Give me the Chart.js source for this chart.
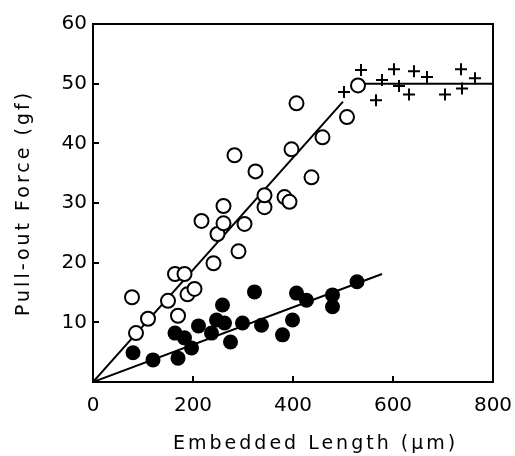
<!DOCTYPE html>
<html>
<head>
<meta charset="utf-8">
<script src="https://cdn.jsdelivr.net/npm/chart.js@4/dist/chart.umd.min.js"></script>
<style>
  html, body { margin: 0; padding: 0; background: #fff; }
</style>
</head>
<body>
<canvas id="chart" width="515" height="456"></canvas>
<script>
// Pull-out force vs embedded length

// open circles
const openX = [78, 86, 110, 150, 164, 170, 183, 189, 203, 217, 241, 249, 261, 261, 283, 291, 303, 325, 343, 343, 383, 393, 397, 407, 437, 459, 508, 530]
const openY = [14.2, 8.2, 10.6, 13.6, 18.1, 11.1, 18.1, 14.7, 15.6, 27.0, 19.9, 24.8, 29.5, 26.6, 38.0, 21.9, 26.5, 35.3, 29.3, 31.3, 31.0, 30.2, 39.0, 46.7, 34.3, 41.0, 44.4, 49.7]

// filled circles
const filledX = [80, 120, 164, 170, 183, 197, 211, 237, 247, 259, 263, 275, 299, 323, 337, 379, 399, 407, 427, 479, 479, 528]
const filledY = [4.9, 3.7, 8.2, 4.0, 7.4, 5.7, 9.4, 8.2, 10.4, 12.9, 9.9, 6.7, 9.9, 15.1, 9.5, 7.9, 10.4, 14.9, 13.7, 14.6, 12.6, 16.8]

// crosses
const plusX = [502, 536, 566, 578, 602, 612, 632, 642, 668, 704, 736, 738, 764]
const plusY = [48.6, 52.3, 47.2, 50.6, 52.4, 49.6, 48.2, 52.1, 51.1, 48.2, 52.4, 49.2, 50.9]

// fitted lines
const openFitX = [0, 500]
const openFitY = [0, 47]
const filledFitX = [0, 578]
const filledFitY = [0, 18.1]
const plateauX = [530, 800]
const plateauY = [50, 50]

// axes
const xTicks = [0, 200, 400, 600, 800]
const yTicks = [10, 20, 30, 40, 50, 60]
const xTitle = 'Embedded Length (\u03bcm)'
const yTitle = 'Pull-out Force (gf)'

const toPoints = (xs, ys) => xs.map((x, i) => ({ x: x, y: ys[i] }))

const TICK_LEN = 6
const FONT = 'DejaVu Sans'

// box around the plot, inward tick marks and the two axis titles
const frameTicks = {
  id: 'frameTicks',
  afterDraw(chart) {
    const { ctx, chartArea: a, scales } = chart
    ctx.save()
    ctx.strokeStyle = '#000'
    ctx.lineWidth = 2
    ctx.strokeRect(a.left, a.top, a.right - a.left, a.bottom - a.top)
    ctx.beginPath()
    scales.x.ticks.forEach(t => {
      if (t.value <= scales.x.min || t.value >= scales.x.max) return
      const px = Math.round(scales.x.getPixelForValue(t.value))
      ctx.moveTo(px, a.bottom)
      ctx.lineTo(px, a.bottom - TICK_LEN)
    })
    scales.y.ticks.forEach(t => {
      if (t.value <= scales.y.min || t.value >= scales.y.max) return
      const py = Math.round(scales.y.getPixelForValue(t.value))
      ctx.moveTo(a.left, py)
      ctx.lineTo(a.left + TICK_LEN, py)
    })
    ctx.stroke()

    // titles: the printed lettering is wide and loosely spaced
    ctx.fillStyle = '#000'
    ctx.font = '19px "' + FONT + '"'
    ctx.letterSpacing = '3px'
    ctx.textBaseline = 'middle'
    ctx.textAlign = 'left'
    ctx.fillText(xTitle, a.left + 80, 444)
    ctx.translate(24, (a.top + a.bottom) / 2)
    ctx.rotate(-Math.PI / 2)
    ctx.textAlign = 'center'
    ctx.fillText(yTitle, 0, 0)
    ctx.restore()
  }
}

const lineStyle = {
  type: 'line',
  borderColor: '#000',
  borderWidth: 2,
  pointRadius: 0,
  fill: false,
  order: 5
}

new Chart(document.getElementById('chart'), {
  type: 'scatter',
  data: {
    datasets: [
      {
        label: 'open',
        data: toPoints(openX, openY),
        pointStyle: 'circle',
        pointRadius: 7,
        borderWidth: 2,
        borderColor: '#000',
        backgroundColor: '#fff',
        order: 1
      },
      {
        label: 'filled',
        data: toPoints(filledX, filledY),
        pointStyle: 'circle',
        pointRadius: 7.5,
        borderWidth: 0,
        backgroundColor: '#000',
        order: 1
      },
      {
        label: 'cross',
        data: toPoints(plusX, plusY),
        pointStyle: 'cross',
        pointRadius: 6,
        borderWidth: 2,
        borderColor: '#000',
        order: 1
      },
      Object.assign({ label: 'open fit', data: toPoints(openFitX, openFitY) }, lineStyle),
      Object.assign({ label: 'filled fit', data: toPoints(filledFitX, filledFitY) }, lineStyle),
      Object.assign({ label: 'plateau', data: toPoints(plateauX, plateauY) }, lineStyle)
    ]
  },
  options: {
    responsive: false,
    animation: false,
    layout: { padding: { left: 0, right: 22, top: 24, bottom: 0 } },
    plugins: {
      legend: { display: false },
      tooltip: { enabled: false }
    },
    scales: {
      x: {
        type: 'linear',
        min: 0,
        max: 800,
        afterBuildTicks: s => { s.ticks = xTicks.map(v => ({ value: v })) },
        afterFit: s => {
          s.height = 74
          s.paddingLeft = 0
          s.paddingRight = 0
        },
        grid: { display: false, drawTicks: false },
        border: { display: false },
        ticks: { padding: 12, color: '#000', font: { family: FONT, size: 20 } }
      },
      y: {
        type: 'linear',
        min: 0,
        max: 60,
        afterBuildTicks: s => { s.ticks = yTicks.map(v => ({ value: v })) },
        afterFit: s => { s.width = 93 },
        grid: { display: false, drawTicks: false },
        border: { display: false },
        ticks: { padding: 6, color: '#000', font: { family: FONT, size: 20 } }
      }
    }
  },
  plugins: [frameTicks]
})
</script>
</body>
</html>
